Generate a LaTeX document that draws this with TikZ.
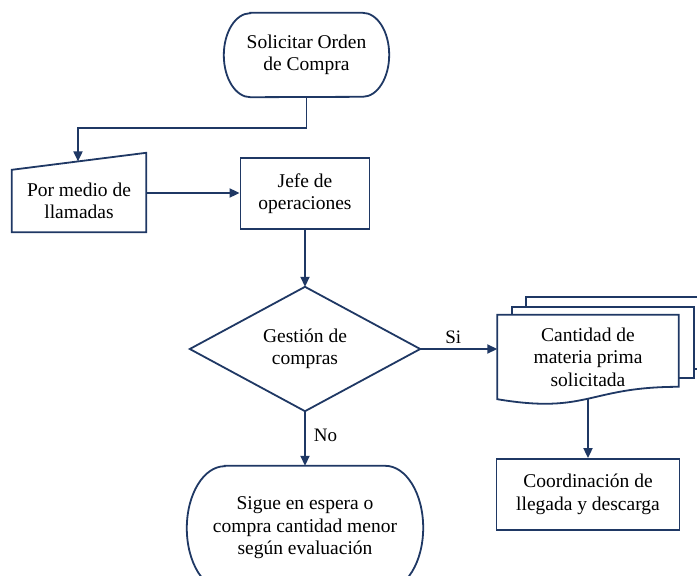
\documentclass[tikz,border=0pt]{standalone}
\usepackage{fontspec}
\setmainfont{Liberation Serif}
\usetikzlibrary{arrows.meta,calc,backgrounds}
\definecolor{navy}{RGB}{31,56,100}
\begin{document}
\begin{tikzpicture}[x=1pt,y=-1pt,
  every node/.style={font=\fontsize{19.5}{22.5}\selectfont, align=center, inner sep=0pt},
  outline/.style={draw=navy, line width=1.8pt, line join=miter, fill=white},
  box/.style={outline, rectangle},
  shapeonly/.style={rectangle},
  flow/.style={draw=navy, line width=1.8pt, -{Triangle[length=10pt,width=9pt]}},
  tag/.style={font=\fontsize{19}{22}\selectfont}
]
\useasboundingbox (0,0) rectangle (697,576);

% nodes
\node[shapeonly, minimum width=165pt, minimum height=84pt] (start) at (306.5,55) {Solicitar Orden\\de Compra};
\node[shapeonly, minimum width=134pt, minimum height=62pt] (manual) at (79,201) {Por medio de\\llamadas};
\node[box, minimum width=129pt, minimum height=71pt] (jefe) at (305,193.5) {Jefe de\\operaciones};
\node[shapeonly, minimum width=230pt, minimum height=124pt] (gest) at (305,349) {Gestión de\\compras};
\node[shapeonly, minimum width=181pt, minimum height=84pt] (doc) at (588,357) {Cantidad de\\materia prima\\solicitada};
\node[box, minimum width=183pt, minimum height=71pt] (coord) at (588,494.5) {Coordinación de\\llegada y descarga};
\node[shapeonly, minimum width=236pt, minimum height=124pt] (wait) at (305,528) {Sigue en espera o\\compra cantidad menor\\según evaluación};

\begin{scope}[on background layer]
  % terminator outlines with elliptical ends
  \draw[outline] ([xshift=26.5pt]start.north west) -- ([xshift=-26.5pt]start.north east)
    arc[start angle=90, end angle=-90, x radius=26.5pt, y radius=42pt]
    -- ([xshift=26.5pt]start.south west)
    arc[start angle=270, end angle=90, x radius=26.5pt, y radius=42pt] -- cycle;
  \draw[outline] ([xshift=38pt]wait.north west) -- ([xshift=-38pt]wait.north east)
    arc[start angle=90, end angle=-90, x radius=38pt, y radius=62pt]
    -- ([xshift=38pt]wait.south west)
    arc[start angle=270, end angle=90, x radius=38pt, y radius=62pt] -- cycle;
  % manual input
  \draw[outline] (manual.south west) -- (manual.north west)
    -- ([yshift=17pt]manual.north east) -- (manual.south east) -- cycle;
  % decision
  \draw[outline] (gest.north) -- (gest.east) -- (gest.south) -- (gest.west) -- cycle;
  % multiple documents
  \draw[outline] ($(doc.north west)+(29,-18)$) rectangle ($(doc.north east)+(30,54)$);
  \draw[outline] ($(doc.north west)+(15,-8)$) rectangle ($(doc.north east)+(15,63)$);
  \draw[outline] (doc.north west) -- (doc.north east) -- ($(doc.north east)+(0,72)$)
    .. controls ($(doc.north)+(0,72)$) and ($(doc.north)+(0,99.6)$) .. (doc.south west) -- cycle;
\end{scope}

\coordinate (mtop) at ($(manual.north west)!0.4925!([yshift=17pt]manual.north east)$);
\coordinate (mout) at ([yshift=8pt]manual.east);

% connectors
\draw[flow] (start.south) -- ++(0,31) -| (mtop);
\draw[flow] (mout) -- (mout -| jefe.west);
\draw[flow] (jefe.south) -- (gest.north);
\draw[flow] (gest.east) -- (gest.east -| doc.west) node[tag, pos=0.43, above=4pt] {Si};
\draw[flow] (gest.south) -- (wait.north) node[tag, pos=0.45, right=8pt] {No};
\draw[flow] (doc.south) -- (coord.north);
\end{tikzpicture}
\end{document}
